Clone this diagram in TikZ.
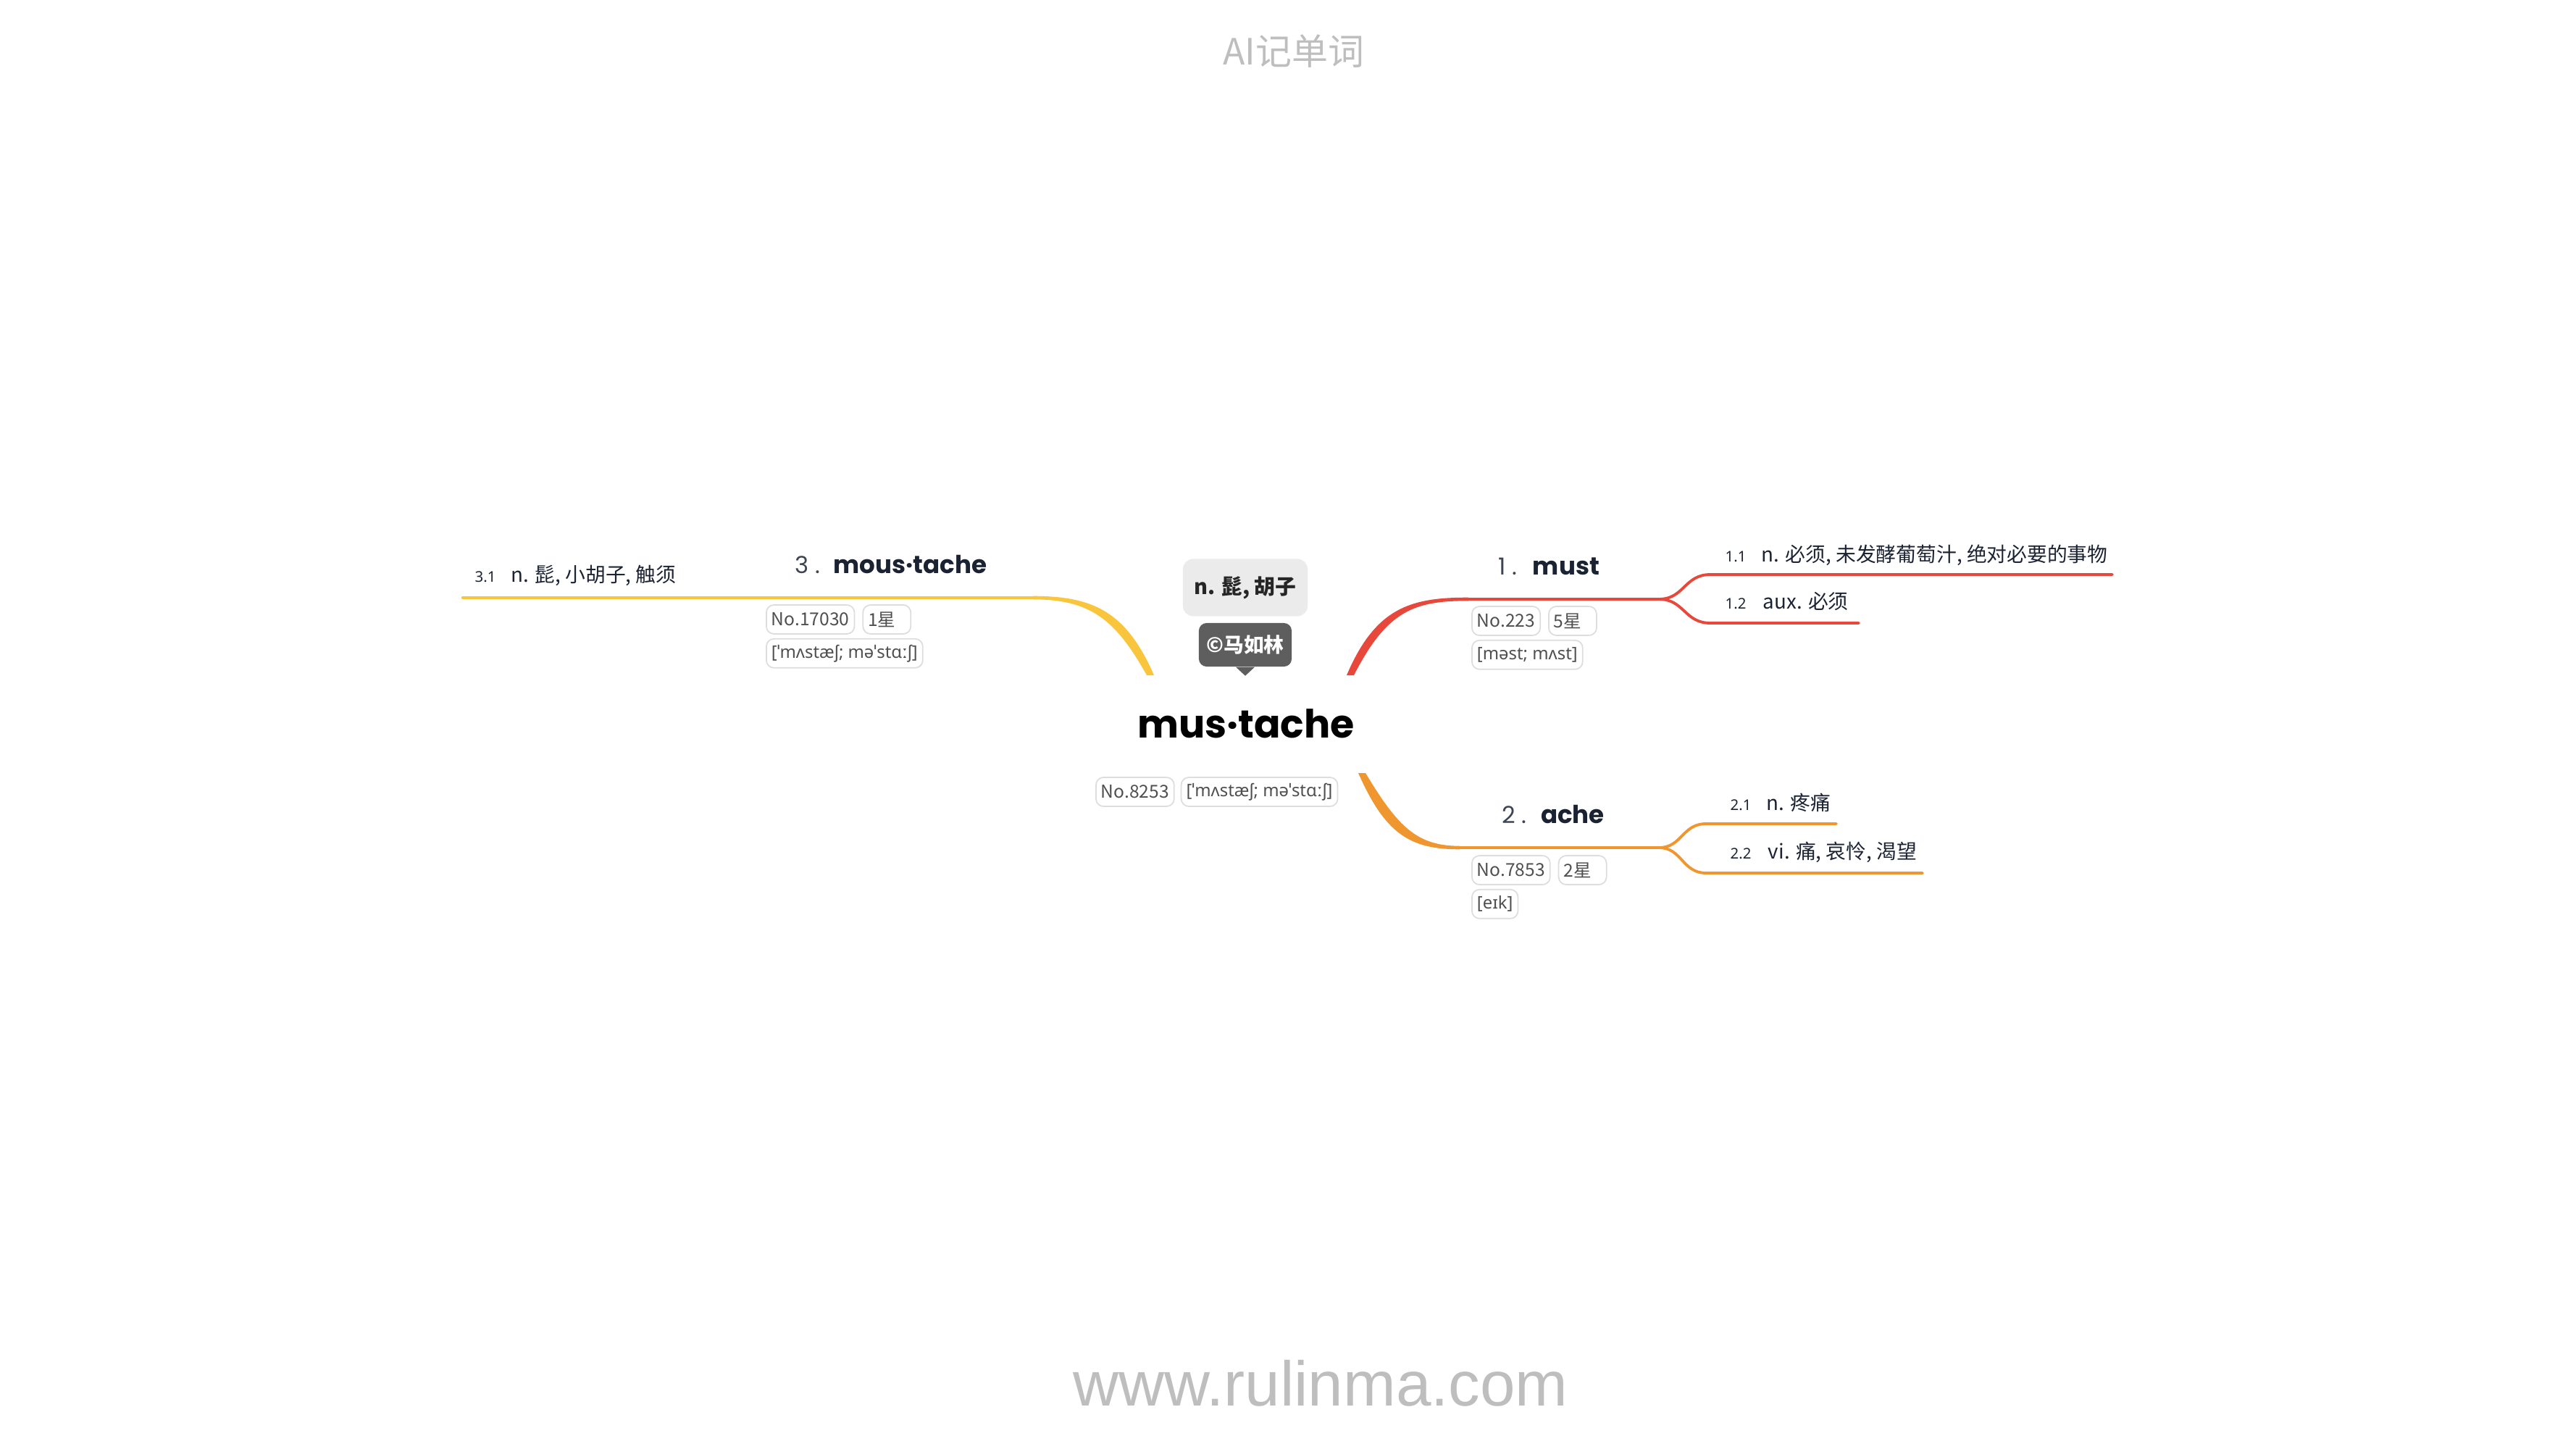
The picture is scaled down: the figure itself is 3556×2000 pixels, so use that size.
\documentclass[tikz,border=0pt]{standalone}
\usepackage{fontspec}
\setmainfont{Noto Sans}
\newfontfamily\cjk{Noto Sans CJK SC}
\newfontfamily\headfont{Poppins}
\newfontfamily\sitefont{Liberation Sans}
\usetikzlibrary{positioning}
\definecolor{redline}{HTML}{E8483B}
\definecolor{orangeline}{HTML}{F0962F}
\definecolor{yellowline}{HTML}{F9C53D}
\definecolor{headink}{HTML}{1B2333}
\definecolor{taggray}{HTML}{DDDDDD}
\definecolor{tagink}{HTML}{4F4F4F}
\definecolor{wmgray}{HTML}{BEBEBE}
\definecolor{meanfill}{HTML}{EBEBEB}
\definecolor{copyfill}{HTML}{5E5E5E}

\begin{document}
\begin{tikzpicture}[%
            x=0.01cm,
            y=-0.01cm,
            node distance=0.1cm,
            tag/.style={%
            	draw=taggray,
            	line width=0.5pt,
            	rounded corners=3pt,
            	minimum height=0.4cm,
            	inner xsep=0.07cm,
            	inner ysep=0pt,
            	text=tagink,
            	font=\cjk\fontsize{7}{8}\selectfont
            },
            startag/.style={tag, text width=0.52cm, align=left},
            phon/.style={tag, font=\fontsize{6.8}{8}\selectfont},
            headnum/.style={%
            	inner sep=0pt,
            	anchor=base west,
            	text=headink!85,
            	font=\headfont\fontsize{9.2}{11}\selectfont
            },
            head/.style={%
            	inner sep=0pt,
            	text=headink,
            	font=\headfont\bfseries\fontsize{9.7}{12}\selectfont
            },
            sensenum/.style={%
            	inner sep=0pt,
            	anchor=base west,
            	text=headink,
            	font=\fontsize{5.8}{7}\selectfont
            },
            sense/.style={%
            	inner sep=0pt,
            	text=headink,
            	font=\cjk\fontsize{7.9}{10}\selectfont
            },
            wire/.style={line width=1.3pt, line cap=round},
            subwire/.style={line width=1.1pt, line cap=round}
            ]
            \useasboundingbox (0,0) rectangle (3556,2000);

            % watermarks
            \node[anchor=base, text=wmgray, font=\cjk\fontsize{14.2}{16}\selectfont] (title) at (1786,90) {AI记单词};
            \node[anchor=base, text=wmgray, font=\sitefont\fontsize{24.8}{28}\selectfont] (site) at (1823,1940) {www.rulinma.com};

            % centre word
            \node[anchor=base, inner sep=0pt, font=\headfont\bfseries\fontsize{15.3}{18}\selectfont] (root) at (1720,1018) {mus·tache};
            \node[fill=meanfill, rounded corners=4pt, minimum width=1.72cm, minimum height=0.79cm, inner sep=0pt,
                  text=black!85, font=\cjk\bfseries\fontsize{8.2}{10}\selectfont] (mean) at (1719,811) {n. 髭, 胡子};
            \node[fill=copyfill, rounded corners=3pt, minimum width=1.28cm, minimum height=0.6cm, inner sep=0pt,
                  text=white, font=\cjk\bfseries\fontsize{7.9}{9}\selectfont] (copy) at (1719,890) {©马如林};
            \fill[copyfill] ([xshift=-0.13cm]copy.south) -- ([yshift=-0.12cm]copy.south) -- ([xshift=0.13cm]copy.south) -- cycle;
            \node[tag, anchor=west] (t0a) at (1512,1093) {No.8253};
            \node[phon] (t0b) [right=0.08cm of t0a] {[ˈmʌstæʃ; məˈstɑːʃ]};

            % branch 1
            \coordinate (r0) at (1864,932);
            \coordinate (r1) at (2027,827);
            \coordinate (rf) at (2290,827);
            \coordinate (r11) at (2361,793);
            \coordinate (r11e) at (2916,793);
            \coordinate (r12) at (2361,860);
            \coordinate (r12e) at (2566,860);
            \fill[redline] ([xshift=-0.05cm]r0) .. controls (1899,838) and (1948,824.7) .. ([yshift=0.023cm]r1)
                -- ([yshift=-0.023cm]r1) .. controls (1953,829.3) and (1915,842) .. ([xshift=0.05cm]r0) -- cycle;
            \draw[wire, redline] (r1) -- (rf);
            \draw[subwire, redline] (rf) .. controls (2325,827) and (2325,793) .. (r11) -- (r11e);
            \draw[subwire, redline] (rf) .. controls (2325,827) and (2325,860) .. (r12) -- (r12e);
            \node[headnum] (h1num) at (2068,793) {1 .};
            \node[head] (h1) [base right=0.2cm of h1num] {must};
            \node[tag, anchor=west] (t1a) at (2031,857) {No.223};
            \node[startag] (t1b) [right=0.1cm of t1a] {5星};
            \node[phon] (t1c) [below=0.05cm of t1a.south west, anchor=north west] {[məst; mʌst]};
            \node[sensenum] (s11num) at (2381,775) {1.1};
            \node[sense] (s11) [base right=0.2cm of s11num] {n. 必须, 未发酵葡萄汁, 绝对必要的事物};
            \node[sensenum] (s12num) at (2381,840) {1.2};
            \node[sense] (s12) [base right=0.22cm of s12num] {aux. 必须};

            % branch 2
            \coordinate (o0) at (1880,1067);
            \coordinate (o1) at (2015,1170);
            \coordinate (of) at (2290,1170);
            \coordinate (o21) at (2355,1137);
            \coordinate (o21e) at (2535,1137);
            \coordinate (o22) at (2355,1205);
            \coordinate (o22e) at (2654,1205);
            \fill[orangeline] ([xshift=-0.05cm]o0) .. controls (1912,1150) and (1945,1172.3) .. ([yshift=-0.023cm]o1)
                -- ([yshift=0.023cm]o1) .. controls (1955,1167.7) and (1929,1140) .. ([xshift=0.05cm]o0) -- cycle;
            \draw[wire, orangeline] (o1) -- (of);
            \draw[subwire, orangeline] (of) .. controls (2322,1170) and (2322,1137) .. (o21) -- (o21e);
            \draw[subwire, orangeline] (of) .. controls (2322,1170) and (2322,1205) .. (o22) -- (o22e);
            \node[headnum] (h2num) at (2073,1136) {2 .};
            \node[head] (h2) [base right=0.18cm of h2num] {ache};
            \node[tag, anchor=west] (t2a) at (2031,1201) {No.7853};
            \node[startag] (t2b) [right=0.1cm of t2a] {2星};
            \node[phon] (t2c) [below=0.05cm of t2a.south west, anchor=north west] {[eɪk]};
            \node[sensenum] (s21num) at (2388,1118) {2.1};
            \node[sense] (s21) [base right=0.2cm of s21num] {n. 疼痛};
            \node[sensenum] (s22num) at (2388,1185) {2.2};
            \node[sense] (s22) [base right=0.22cm of s22num] {vi. 痛, 哀怜, 渴望};

            % branch 3
            \coordinate (y0) at (1588,932);
            \coordinate (y1) at (1426,825);
            \coordinate (y1e) at (639,825);
            \fill[yellowline] ([xshift=0.05cm]y0) .. controls (1555,845) and (1510,822.7) .. ([yshift=0.023cm]y1)
                -- ([yshift=-0.023cm]y1) .. controls (1505,827.3) and (1540,855) .. ([xshift=-0.05cm]y0) -- cycle;
            \draw[wire, yellowline] (y1) -- (y1e);
            \node[headnum] (h3num) at (1097,791) {3 .};
            \node[head] (h3) [base right=0.17cm of h3num] {mous·tache};
            \node[tag, anchor=west] (t3a) at (1057,855) {No.17030};
            \node[startag] (t3b) [right=0.1cm of t3a] {1星};
            \node[phon] (t3c) [below=0.05cm of t3a.south west, anchor=north west] {[ˈmʌstæʃ; məˈstɑːʃ]};
            \node[sensenum] (s31num) at (655,803) {3.1};
            \node[sense] (s31) [base right=0.2cm of s31num] {n. 髭, 小胡子, 触须};
\end{tikzpicture}
\end{document}
